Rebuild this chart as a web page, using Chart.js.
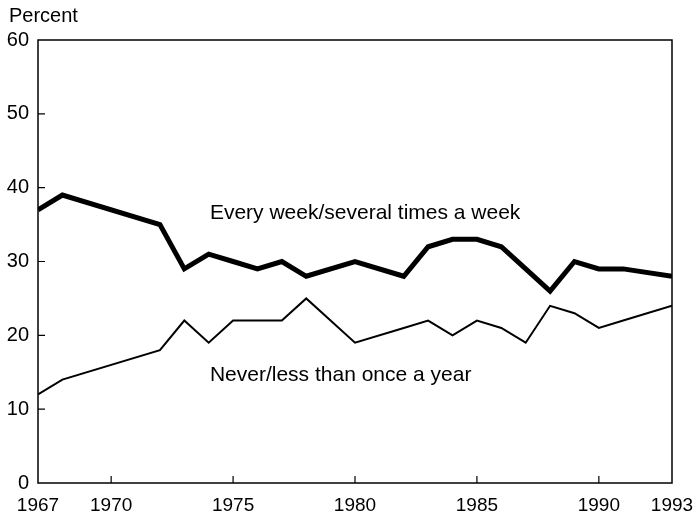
<!DOCTYPE html>
<html>
<head>
<meta charset="utf-8">
<script src="https://cdn.jsdelivr.net/npm/chart.js@4.4.0/dist/chart.umd.min.js"></script>
<style>
  html, body { margin: 0; padding: 0; background: #fff; }
  #wrap { width: 699px; height: 520px; }
</style>
</head>
<body>
<div id="wrap"><canvas id="attendChart"></canvas></div>
<script>
// survey years (no survey in 1969-71, 1979, 1981, 1992)
const years = [1967, 1968, 1972, 1973, 1974, 1975, 1976, 1977, 1978, 1980, 1982,
               1983, 1984, 1985, 1986, 1987, 1988, 1989, 1990, 1991, 1993];
const everyWeek = [37, 39, 35, 29, 31, 30, 29, 30, 28, 30, 28,
                   32, 33, 33, 32, 29, 26, 30, 29, 29, 28];
const neverOnce = [12, 14, 18, 22, 19, 22, 22, 22, 25, 19, 21,
                   22, 20, 22, 21, 19, 24, 23, 21, 22, 24];
const xTicks = [1967, 1970, 1975, 1980, 1985, 1990, 1993];
const yTicks = [0, 10, 20, 30, 40, 50, 60];

const FONT = '"Liberation Sans", Arial, Helvetica, sans-serif';

// frame, inward tick marks, and the line labels
const framePlugin = {
    id: 'frame',
    afterDraw(chart) {
        const { ctx, chartArea: a, scales } = chart;
        ctx.save();
        ctx.strokeStyle = '#000';
        ctx.lineWidth = 1.5;
        ctx.strokeRect(a.left, a.top, a.right - a.left, a.bottom - a.top);

        ctx.lineWidth = 1.2;
        ctx.beginPath();
        xTicks.slice(1, -1).forEach(v => {
            const px = scales.x.getPixelForValue(v);
            ctx.moveTo(px, a.bottom);
            ctx.lineTo(px, a.bottom - 7);
        });
        yTicks.slice(1, -1).forEach(v => {
            const py = scales.y.getPixelForValue(v);
            ctx.moveTo(a.left, py);
            ctx.lineTo(a.left + 7, py);
        });
        ctx.stroke();

        ctx.fillStyle = '#000';
        ctx.font = '21px ' + FONT;
        ctx.textBaseline = 'middle';
        ctx.textAlign = 'left';
        ctx.fillText('Every week/several times a week',
            scales.x.getPixelForValue(1974.05), scales.y.getPixelForValue(36.5));
        ctx.fillText('Never/less than once a year',
            scales.x.getPixelForValue(1974.05), scales.y.getPixelForValue(14.6));

        ctx.font = '20px ' + FONT;
        ctx.fillText('Percent', 9, 16);
        ctx.restore();
    }
};

document.addEventListener('DOMContentLoaded', function() {
    const ctx = document.getElementById('attendChart').getContext('2d');

    new Chart(ctx, {
        type: 'line',
        data: {
            datasets: [{
                label: 'Every week/several times a week',
                data: years.map((y, i) => ({ x: y, y: everyWeek[i] })),
                borderColor: '#000',
                borderWidth: 5,
                pointRadius: 0,
                tension: 0,
                borderJoinStyle: 'miter'
            }, {
                label: 'Never/less than once a year',
                data: years.map((y, i) => ({ x: y, y: neverOnce[i] })),
                borderColor: '#000',
                borderWidth: 2,
                pointRadius: 0,
                tension: 0
            }]
        },
        options: {
            responsive: true,
            maintainAspectRatio: false,
            animation: false,
            layout: {
                padding: { top: 40, right: 27, bottom: 0, left: 0 }
            },
            plugins: {
                legend: { display: false },
                tooltip: { enabled: false }
            },
            scales: {
                x: {
                    type: 'linear',
                    min: 1967,
                    max: 1993,
                    afterBuildTicks: s => { s.ticks = xTicks.map(v => ({ value: v })); },
                    afterFit: s => {
                        s.height = 37;
                        s.paddingLeft = 0;
                        s.paddingRight = 0;
                    },
                    grid: { display: false, drawTicks: false },
                    border: { display: false },
                    ticks: {
                        color: '#000',
                        padding: 11,
                        maxRotation: 0,
                        autoSkip: false,
                        font: { family: FONT, size: 19 },
                        callback: v => String(v)
                    }
                },
                y: {
                    min: 0,
                    max: 60,
                    afterBuildTicks: s => { s.ticks = yTicks.map(v => ({ value: v })); },
                    afterFit: s => { s.width = 38; },
                    grid: { display: false, drawTicks: false },
                    border: { display: false },
                    ticks: {
                        color: '#000',
                        padding: 9,
                        font: { family: FONT, size: 20 }
                    }
                }
            }
        },
        plugins: [framePlugin]
    });
});
</script>
</body>
</html>
